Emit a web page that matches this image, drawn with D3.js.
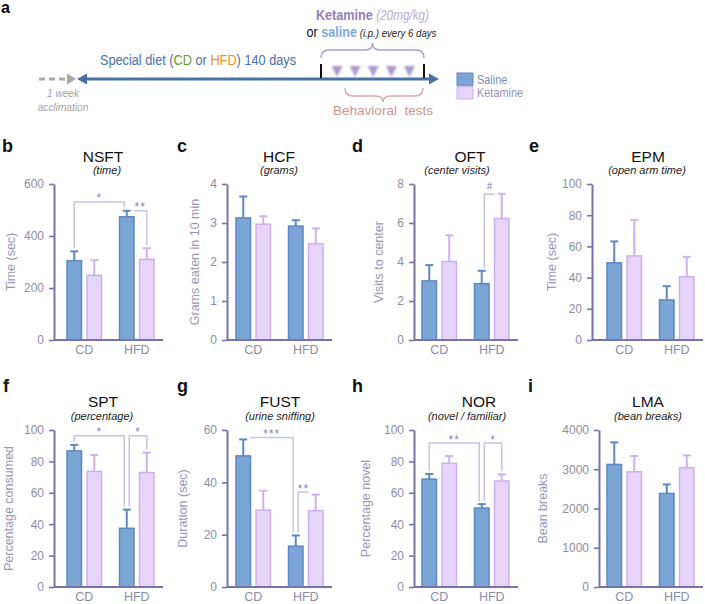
<!DOCTYPE html>
<html><head><meta charset="utf-8">
<script src="https://cdn.jsdelivr.net/npm/d3@7"></script>
<style>body{margin:0;background:#fff} svg{display:block;font-family:"Liberation Sans",Arial,sans-serif}</style>
</head><body><svg id="c" width="705" height="604"></svg>
<script>
// ---------------- data ----------------
const groups = ["CD", "HFD"];
const series = ["Saline", "Ketamine"];
const panelIds = ["b", "c", "d", "e", "f", "g", "h", "i"];
const panelTitles = ["NSFT", "HCF", "OFT", "EPM", "SPT", "FUST", "NOR", "LMA"];
const panelSubtitles = ["(time)", "(grams)", "(center visits)", "(open arm time)", "(percentage)", "(urine sniffing)", "(novel / familiar)", "(bean breaks)"];
const yAxisTitles = ["Time (sec)", "Grams eaten in 10 min", "Visits to center", "Time (sec)", "Percentage consumed", "Duration (sec)", "Percentage novel", "Bean breaks"];
const yTickValues = [
  [0, 200, 400, 600], [0, 1, 2, 3, 4], [0, 2, 4, 6, 8], [0, 20, 40, 60, 80, 100],
  [0, 20, 40, 60, 80, 100], [0, 20, 40, 60], [0, 20, 40, 60, 80, 100], [0, 1000, 2000, 3000, 4000]
];
// [CD, HFD]
const salineMean = [[305, 474], [3.13, 2.92], [3.03, 2.89], [49.5, 25.7], [86.7, 37.4], [50.1, 15.6], [68.7, 50.3], [3123, 2383]];
const salineSEM  = [[36, 23], [0.55, 0.15], [0.81, 0.66], [13.7, 8.8], [3.8, 11.9], [6.3, 4.1], [3.3, 2.5], [562, 230]];
const ketamineMean = [[249, 310], [2.97, 2.47], [4.03, 6.23], [53.9, 40.6], [73.6, 72.9], [29.4, 29.2], [78.8, 67.5], [2936, 3038]];
const ketamineSEM  = [[58, 43], [0.2, 0.39], [1.34, 1.27], [23.1, 12.7], [10.4, 12.7], [7.4, 6.1], [4.6, 4.3], [400, 315]];
// significance brackets
const sigPanel = ["b", "b", "d", "f", "f", "g", "g", "h", "h"];
const sigFrom  = [["CD", "Saline"], ["HFD", "Saline"], ["HFD", "Saline"], ["CD", "Saline"], ["HFD", "Saline"], ["CD", "Saline"], ["HFD", "Saline"], ["CD", "Saline"], ["HFD", "Saline"]];
const sigTo    = [["HFD", "Saline"], ["HFD", "Ketamine"], ["HFD", "Ketamine"], ["HFD", "Saline"], ["HFD", "Ketamine"], ["HFD", "Saline"], ["HFD", "Ketamine"], ["HFD", "Saline"], ["HFD", "Ketamine"]];
const sigLevel = [531, 497, 7.47, 96.4, 96.4, 57.1, 36.3, 91.7, 91.7];
const sigLabel = ["*", "**", "#", "*", "*", "***", "**", "**", "*"];
// timeline (panel a)
const injections = [1, 2, 3, 4, 5];
const legendItems = ["Saline", "Ketamine"];

// ---------------- layout / style ----------------
const colBandX = [58, 227, 413, 598];
const panelAxisX = [54, 227, 414, 592, 54, 227, 414, 599];
const rowTop = [184, 430], rowBottom = [340, 587];
const titleX = [103, 279, 470, 648, 103, 280, 479, 648];
const subX = [107, 279, 457, 647, 102, 280, 467, 648];
const yTitleX = [11, 195, 379, 552, 9, 183, 366, 543];
const letterX = [2, 177, 352, 529, 3, 177, 352, 528];
const fillC = {Saline: "#7ba5d4", Ketamine: "#e7d4f9"};
const strokeC = {Saline: "#5b89c2", Ketamine: "#cdb1ee"};
const axisC = "#7772ab", tickTextC = "#8d8ca6", yTitleC = "#9896b9", bracketC = "#c8c3df", sigC = "#8a82b8";

const svg = d3.select("#c");

// ---------------- panel a ----------------
const A = svg.append("g");
const defs = svg.append("defs");
defs.append("filter").attr("id", "soft").attr("x", "-30%").attr("y", "-30%").attr("width", "160%").attr("height", "160%")
  .append("feGaussianBlur").attr("stdDeviation", 1.1);

A.append("text").attr("x", 1).attr("y", 13).attr("font-weight", "bold").attr("font-size", 16).text("a");

function ctext(x, y, anchor, sx, size) {
  return A.append("text").attr("transform", `translate(${x},${y}) scale(${sx},1)`)
    .attr("text-anchor", anchor).attr("font-size", size);
}
// dashed acclimation arrow
A.append("line").attr("x1", 39).attr("x2", 68).attr("y1", 79).attr("y2", 79)
  .attr("stroke", "#a7a7a7").attr("stroke-width", 3).attr("stroke-dasharray", "6,4");
A.append("path").attr("d", "M67,73.5 L76,79 L67,84.5 Z").attr("fill", "#a7a7a7");
// main arrow
A.append("line").attr("x1", 82).attr("x2", 432).attr("y1", 79).attr("y2", 79)
  .attr("stroke", "#4b70a8").attr("stroke-width", 3);
A.append("path").attr("d", "M77,79 L87,73.5 L87,84.5 Z").attr("fill", "#4b70a8");
A.append("path").attr("d", "M439,79 L429,73.5 L429,84.5 Z").attr("fill", "#4b70a8");
// treatment window ticks
[321, 424].forEach(x => A.append("line").attr("x1", x).attr("x2", x).attr("y1", 64).attr("y2", 78)
  .attr("stroke", "#111").attr("stroke-width", 2));
// injections
const inj = d3.scalePoint().domain(injections).range([337, 409.5]);
A.selectAll("path.inj").data(injections).join("path").attr("class", "inj")
  .attr("d", d => `M${inj(d) - 5.5},66 L${inj(d) + 5.5},66 L${inj(d)},77 Z`)
  .attr("fill", "#a28ec8").attr("opacity", 0.9).attr("filter", "url(#soft)");
// braces
A.append("path").attr("d", "M321,58 Q321,50 329,50 L365,50 Q372.5,50 372.5,43 Q372.5,50 380,50 L416,50 Q424,50 424,58")
  .attr("fill", "none").attr("stroke", "#ab9ecd").attr("stroke-width", 1.5);
A.append("path").attr("d", "M345,88 Q345,96 353,96 L375,96 Q383,96 383,102 Q383,96 391,96 L415,96 Q423,96 423,88")
  .attr("fill", "none").attr("stroke", "#d9abab").attr("stroke-width", 1.5);
// texts
let t = ctext(372.5, 19.5, "middle", 0.84, 15);
t.append("tspan").attr("font-weight", "bold").attr("fill", "#9080ba").text("Ketamine ");
t.append("tspan").attr("font-style", "italic").attr("fill", "#b8acd6").attr("font-size", 14).text("(20mg/kg)");
t = ctext(371.5, 37, "middle", 0.84, 15);
t.append("tspan").attr("fill", "#111").text("or ");
t.append("tspan").attr("font-weight", "bold").attr("fill", "#7ea7dc").text("saline");
t.append("tspan").attr("font-style", "italic").attr("fill", "#222").attr("font-size", 11.5).text(" (i.p.) every 6 days");
t = ctext(198, 65, "middle", 0.88, 14.5);
t.append("tspan").attr("fill", "#4b70a8").text("Special diet (");
t.append("tspan").attr("fill", "#6b9b2c").text("CD");
t.append("tspan").attr("fill", "#4b70a8").text(" or ");
t.append("tspan").attr("fill", "#e8952c").text("HFD");
t.append("tspan").attr("fill", "#4b70a8").text(") 140 days");
ctext(63, 97, "middle", 0.88, 11.5).attr("font-style", "italic").attr("fill", "#a3a3a3").text("1 week");
ctext(63, 111, "middle", 0.88, 11.5).attr("font-style", "italic").attr("fill", "#a3a3a3").text("acclimation");
ctext(383, 115, "middle", 1, 13.5).attr("fill", "#c99595").style("white-space", "pre").text("Behavioral  tests");
// legend
const legY = d3.scaleBand().domain(legendItems).range([73, 99]).paddingInner(0.1);
legendItems.forEach(k => {
  A.append("rect").attr("x", 457).attr("y", legY(k)).attr("width", 16).attr("height", legY.bandwidth())
    .attr("fill", fillC[k]).attr("stroke", strokeC[k]).attr("stroke-width", 1);
  ctext(477, legY(k) + legY.bandwidth() / 2 + 4.5, "start", 0.84, 13)
    .attr("fill", k === "Saline" ? "#7b8db5" : "#9a92bb").text(k);
});

// ---------------- panels b-i ----------------
const scales = {};
panelIds.forEach((id, i) => {
  const row = i < 4 ? 0 : 1, col = i % 4;
  const top = rowTop[row], bottom = rowBottom[row];
  const ticks = yTickValues[i];
  const y = d3.scaleLinear().domain([0, d3.max(ticks)]).range([bottom, top]);
  const x0 = d3.scaleBand().domain(groups).range([colBandX[col], colBandX[col] + 105]);
  const x1 = d3.scaleBand().domain(series).range([0, x0.bandwidth()]).paddingInner(0.275).paddingOuter(0.45);
  scales[id] = {x0, x1, y, i};
  const g = svg.append("g");

  // letter, titles
  g.append("text").attr("x", letterX[i]).attr("y", row ? 392 : 152).attr("font-weight", "bold")
    .attr("font-size", 18).attr("fill", "#111").text(id);
  g.append("text").attr("x", titleX[i]).attr("y", row ? 407 : 162).attr("text-anchor", "middle")
    .attr("font-size", 15.5).attr("fill", "#111").text(panelTitles[i]);
  g.append("text").attr("x", subX[i]).attr("y", row ? 419.5 : 174).attr("text-anchor", "middle")
    .attr("font-size", 11).attr("font-style", "italic").attr("fill", "#222").text(panelSubtitles[i]);

  // y title
  g.append("text").attr("transform", `translate(${yTitleX[i]},${(top + bottom) / 2}) rotate(-90)`)
    .attr("text-anchor", "middle").attr("dominant-baseline", "central")
    .attr("font-size", 12.5).attr("fill", yTitleC).text(yAxisTitles[i]);

  // bars
  const rows = [];
  groups.forEach((gr, gi) => series.forEach((s, si) => {
    rows.push({gr, s, mean: (si ? ketamineMean : salineMean)[i][gi], err: (si ? ketamineSEM : salineSEM)[i][gi]});
  }));
  g.selectAll("rect.bar").data(rows).join("rect").attr("class", "bar")
    .attr("x", d => x0(d.gr) + x1(d.s)).attr("width", x1.bandwidth())
    .attr("y", d => y(d.mean)).attr("height", d => y(0) - y(d.mean))
    .attr("fill", d => fillC[d.s]).attr("stroke", d => strokeC[d.s]).attr("stroke-width", 1.5);
  const cx = d => x0(d.gr) + x1(d.s) + x1.bandwidth() / 2;
  g.selectAll("line.eb").data(rows).join("line").attr("class", "eb")
    .attr("x1", cx).attr("x2", cx).attr("y1", d => y(d.mean)).attr("y2", d => y(d.mean + d.err))
    .attr("stroke", d => strokeC[d.s]).attr("stroke-width", 2);
  g.selectAll("line.cap").data(rows).join("line").attr("class", "cap")
    .attr("x1", d => cx(d) - 4).attr("x2", d => cx(d) + 4).attr("y1", d => y(d.mean + d.err)).attr("y2", d => y(d.mean + d.err))
    .attr("stroke", d => strokeC[d.s]).attr("stroke-width", 2);

  // y axis
  const ya = g.append("g").attr("transform", `translate(${panelAxisX[i]},0)`)
    .call(d3.axisLeft(y).tickValues(ticks).tickSize(5).tickSizeOuter(0).tickPadding(5).tickFormat(d3.format("d")));
  ya.attr("font-family", null).attr("font-size", 12);
  ya.select(".domain").attr("stroke", axisC).attr("stroke-width", 2);
  ya.selectAll(".tick line").attr("stroke", axisC).attr("stroke-width", 1.6);
  ya.selectAll(".tick text").attr("fill", tickTextC);
  // x axis
  g.append("line").attr("x1", panelAxisX[i]).attr("x2", colBandX[col] + 105).attr("y1", y(0)).attr("y2", y(0))
    .attr("stroke", axisC).attr("stroke-width", 2);
  const xa = g.append("g").attr("transform", `translate(0,${y(0)})`)
    .call(d3.axisBottom(x0).tickSize(0).tickPadding(5));
  xa.attr("font-family", null).attr("font-size", 12.5);
  xa.select(".domain").remove();
  xa.selectAll(".tick text").attr("fill", tickTextC);
});

// significance brackets
sigPanel.forEach((p, k) => {
  const {x0, x1, y, i} = scales[p];
  const ep = (gr, s) => {
    const gi = groups.indexOf(gr), si = series.indexOf(s);
    const m = (si ? ketamineMean : salineMean)[i][gi], e = (si ? ketamineSEM : salineSEM)[i][gi];
    return {x: x0(gr) + x1(s) + x1.bandwidth() / 2, top: y(m + e)};
  };
  const a = ep(...sigFrom[k]), b = ep(...sigTo[k]);
  const by = y(sigLevel[k]);
  let xa = a.x, xb = b.x;
  if (sigFrom[k][0] === "HFD" && sigFrom[k][1] === "Saline") xa += 2.5;
  if (sigTo[k][0] === "HFD" && sigTo[k][1] === "Saline") xb -= 2.5;
  const aLeg = a.top - 3 > by + 0.5, bLeg = b.top - 3 > by + 0.5;
  if (!aLeg) xa = a.x + 7;
  if (!bLeg) xb = b.x - 7;
  let d = aLeg ? `M${xa},${a.top - 3}L${xa},${by}` : `M${xa},${by}`;
  d += `L${xb},${by}`;
  if (bLeg) d += `L${xb},${b.top - 3}`;
  svg.append("path").attr("d", d).attr("fill", "none").attr("stroke", bracketC).attr("stroke-width", 1.5);
  const isHash = sigLabel[k] === "#";
  svg.append("text").attr("x", (xa + xb) / 2).attr("y", isHash ? by - 4 : by + 0.5)
    .attr("text-anchor", "middle").attr("font-size", isHash ? 10 : 12).attr("letter-spacing", isHash ? 0 : 1)
    .attr("fill", sigC).text(sigLabel[k]);
});
</script></body></html>
